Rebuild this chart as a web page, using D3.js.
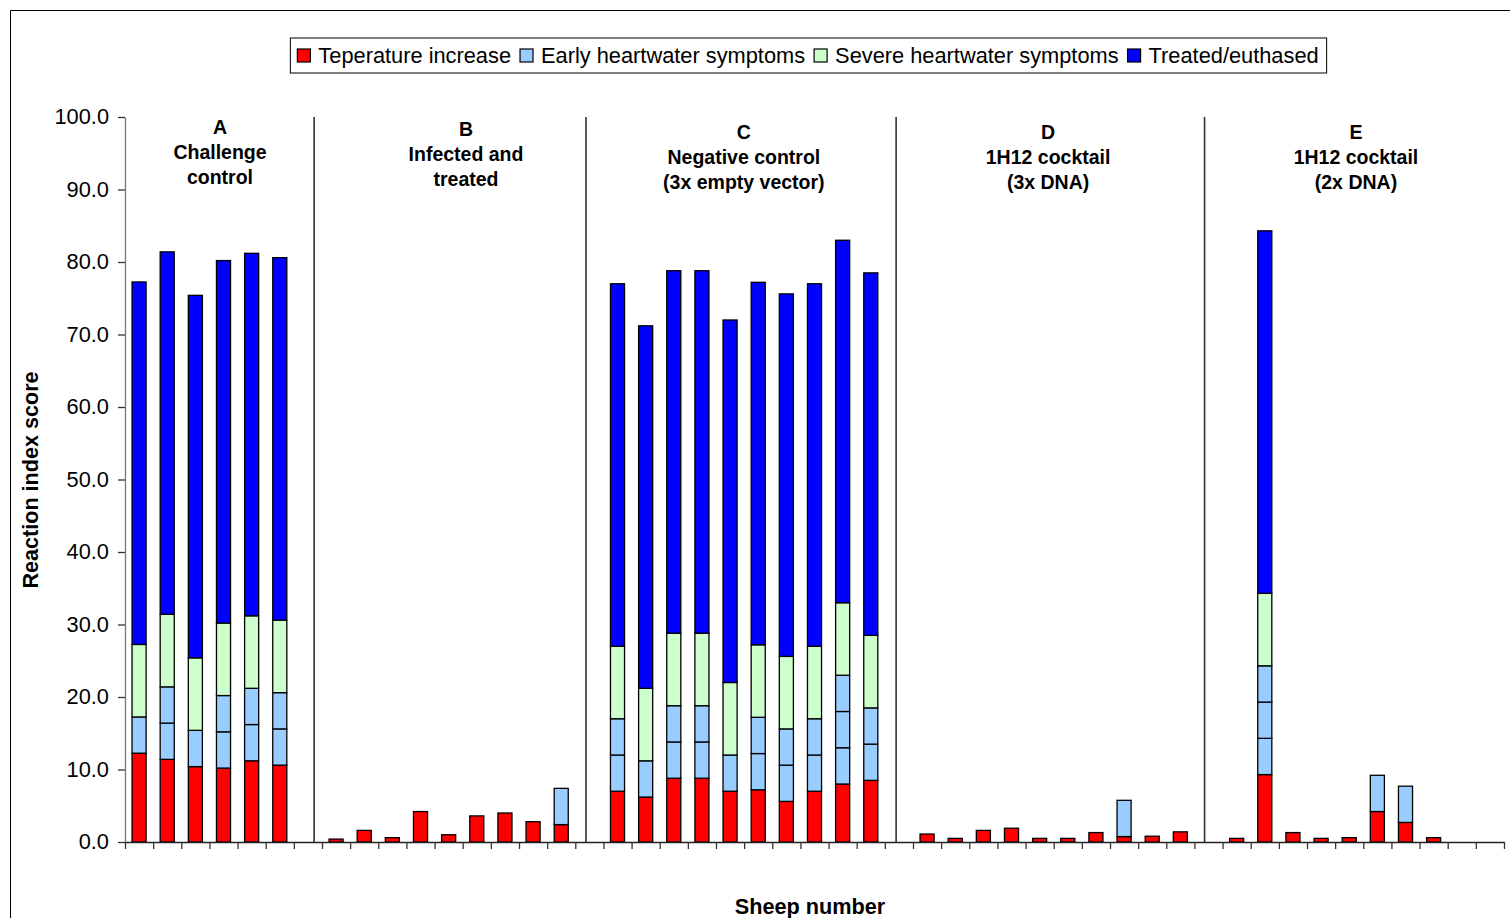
<!DOCTYPE html>
<html>
<head>
<meta charset="utf-8">
<script src="https://cdn.jsdelivr.net/npm/d3@7"></script>
<style>
  html, body { margin: 0; padding: 0; background: #fff; }
  svg { display: block; font-family: "Liberation Sans", Arial, sans-serif; }
</style>
</head>
<body>
<svg id="chart" width="1510" height="918"></svg>
<script>
// Sheep per group, in plotting order
const groupNames = ["A", "B", "C", "D", "E"];
const groupSizes = [6, 9, 10, 10, 10];
const groupTitles = [
  ["A", "Challenge", "control"],
  ["B", "Infected and", "treated"],
  ["C", "Negative control", "(3x empty vector)"],
  ["D", "1H12 cocktail", "(3x DNA)"],
  ["E", "1H12 cocktail", "(2x DNA)"]
];

// Reaction index score components, one value per sheep (A1..A6, B1..B9, C1..C10, D1..D10, E1..E10)
const tempIncrease = [
  12.25, 11.4, 10.4, 10.2, 11.2, 10.6,
  0.4, 1.6, 0.6, 4.2, 1.0, 3.6, 4.0, 2.8, 2.4,
  7.0, 6.2, 8.8, 8.8, 7.0, 7.2, 5.6, 7.0, 8.0, 8.5,
  1.1, 0.5, 1.6, 1.9, 0.5, 0.5, 1.3, 0.75, 0.8, 1.4,
  0.5, 9.3, 1.3, 0.5, 0.6, 4.2, 2.7, 0.6, 0, 0
];
const earlyDay1 = [
  5, 5, 5, 5, 5, 5,
  0, 0, 0, 0, 0, 0, 0, 0, 5,
  5, 5, 5, 5, 5, 5, 5, 5, 5, 5,
  0, 0, 0, 0, 0, 0, 0, 5, 0, 0,
  0, 5, 0, 0, 0, 5, 5, 0, 0, 0
];
const earlyDay2 = [
  0, 5, 0, 5, 5, 5,
  0, 0, 0, 0, 0, 0, 0, 0, 0,
  5, 0, 5, 5, 0, 5, 5, 5, 5, 5,
  0, 0, 0, 0, 0, 0, 0, 0, 0, 0,
  0, 5, 0, 0, 0, 0, 0, 0, 0, 0
];
const earlyDay3 = [
  0, 0, 0, 0, 0, 0,
  0, 0, 0, 0, 0, 0, 0, 0, 0,
  0, 0, 0, 0, 0, 0, 0, 0, 5, 0,
  0, 0, 0, 0, 0, 0, 0, 0, 0, 0,
  0, 5, 0, 0, 0, 0, 0, 0, 0, 0
];
const severe = [
  10, 10, 10, 10, 10, 10,
  0, 0, 0, 0, 0, 0, 0, 0, 0,
  10, 10, 10, 10, 10, 10, 10, 10, 10, 10,
  0, 0, 0, 0, 0, 0, 0, 0, 0, 0,
  0, 10, 0, 0, 0, 0, 0, 0, 0, 0
];
const treated = [
  50, 50, 50, 50, 50, 50,
  0, 0, 0, 0, 0, 0, 0, 0, 0,
  50, 50, 50, 50, 50, 50, 50, 50, 50, 50,
  0, 0, 0, 0, 0, 0, 0, 0, 0, 0,
  0, 50, 0, 0, 0, 0, 0, 0, 0, 0
];

const yTicks = [0, 10, 20, 30, 40, 50, 60, 70, 80, 90, 100];

const legendItems = [
  { label: "Teperature increase", color: "#FF0000" },
  { label: "Early heartwater symptoms", color: "#99CCFF" },
  { label: "Severe heartwater symptoms", color: "#CCFFCC" },
  { label: "Treated/euthased", color: "#0000FF" }
];

// Stack layers: the early-symptom score is built from separate day blocks
const layers = [
  { key: "temp", values: tempIncrease, color: "#FF0000" },
  { key: "early1", values: earlyDay1, color: "#99CCFF" },
  { key: "early2", values: earlyDay2, color: "#99CCFF" },
  { key: "early3", values: earlyDay3, color: "#99CCFF" },
  { key: "severe", values: severe, color: "#CCFFCC" },
  { key: "treated", values: treated, color: "#0000FF" }
];

// ---- build category slots: each group followed by an empty spacer slot ----
const rows = [];
const categories = [];
let k = 0;
groupNames.forEach((g, gi) => {
  for (let s = 0; s < groupSizes[gi]; s++) {
    const id = g + (s + 1);
    const row = { id, group: g };
    layers.forEach(l => { row[l.key] = l.values[k]; });
    rows.push(row);
    categories.push(id);
    k++;
  }
  if (gi < groupNames.length - 1) categories.push("gap" + gi);
});

// ---- layout ----
const svg = d3.select("#chart");
const W = 1510, H = 918;
const plot = { left: 125, right: 1504, top: 117, bottom: 842 };

const x = d3.scaleBand()
  .domain(categories)
  .range([plot.left, plot.right])
  .paddingInner(0.5)
  .paddingOuter(0.25);

const xEdge = d3.scaleLinear()
  .domain([0, categories.length])
  .range([plot.left, plot.right]);

const y = d3.scaleLinear().domain([0, 100]).range([plot.bottom, plot.top]);

// outer frame
svg.append("path")
  .attr("d", `M10.5,${H} V10.5 H${W}`)
  .attr("fill", "none")
  .attr("stroke", "#000")
  .attr("stroke-width", 1);

// stacked bars
const stack = d3.stack().keys(layers.map(l => l.key));
const stacked = stack(rows);
const colorOf = Object.fromEntries(layers.map(l => [l.key, l.color]));

svg.append("g")
  .selectAll("g")
  .data(stacked)
  .join("g")
  .attr("fill", d => colorOf[d.key])
  .selectAll("rect")
  .data(d => d.filter(s => s[1] - s[0] > 0))
  .join("rect")
  .attr("x", d => x(d.data.id))
  .attr("width", x.bandwidth())
  .attr("y", d => y(d[1]))
  .attr("height", d => y(d[0]) - y(d[1]))
  .attr("stroke", "#000")
  .attr("stroke-width", 1.3);

// group separators (placed along the category axis)
const separatorPos = [6.72, 16.38, 27.4, 38.36];
svg.append("g")
  .selectAll("line")
  .data(separatorPos)
  .join("line")
  .attr("x1", d => xEdge(d)).attr("x2", d => xEdge(d))
  .attr("y1", y(100)).attr("y2", y(0))
  .attr("stroke", "#333")
  .attr("stroke-width", 1.6);

// group titles
const titlePos = [3.376, 12.117, 21.99, 32.8, 43.74];
const titleTop = [127, 129, 132, 132, 132];
const titles = svg.append("g")
  .attr("font-weight", "bold")
  .attr("font-size", 19.5)
  .attr("text-anchor", "middle")
  .attr("fill", "#000");
groupTitles.forEach((lines, gi) => {
  lines.forEach((t, li) => {
    titles.append("text")
      .attr("x", xEdge(titlePos[gi]))
      .attr("y", titleTop[gi] + li * 25)
      .attr("dy", "0.36em")
      .text(t);
  });
});

// y axis
const yAxis = svg.append("g")
  .attr("transform", `translate(${plot.left},0)`)
  .call(d3.axisLeft(y)
    .tickValues(yTicks)
    .tickFormat(d3.format(".1f"))
    .tickSize(7)
    .tickPadding(9)
    .tickSizeOuter(0));
yAxis.select(".domain").attr("stroke", "#777").attr("stroke-width", 1.3);
yAxis.selectAll(".tick line").attr("stroke", "#333").attr("stroke-width", 1.3);
yAxis.selectAll(".tick text")
  .attr("font-size", 21.8)
  .attr("font-family", "\"Liberation Sans\", Arial, sans-serif")
  .attr("fill", "#000");

// x axis (ticks between categories, no labels)
const xAxis = svg.append("g")
  .attr("transform", `translate(0,${plot.bottom})`)
  .call(d3.axisBottom(xEdge)
    .tickValues(d3.range(0, categories.length + 1))
    .tickFormat("")
    .tickSize(7)
    .tickSizeOuter(0));
xAxis.select(".domain").attr("stroke", "#222").attr("stroke-width", 1.5);
xAxis.selectAll(".tick line").attr("stroke", "#333").attr("stroke-width", 1.3);

// axis titles
svg.append("text")
  .attr("transform", "translate(30,480) rotate(-90)")
  .attr("text-anchor", "middle")
  .attr("dy", "0.36em")
  .attr("font-weight", "bold")
  .attr("font-size", 21.6)
  .text("Reaction index score");

svg.append("text")
  .attr("x", 810)
  .attr("y", 906)
  .attr("dy", "0.36em")
  .attr("text-anchor", "middle")
  .attr("font-weight", "bold")
  .attr("font-size", 21.7)
  .text("Sheep number");

// legend
const legend = svg.append("g");
const legendBox = legend.append("rect")
  .attr("fill", "#fff")
  .attr("stroke", "#000")
  .attr("stroke-width", 1);
const sw = 13, gapIn = 8, gapOut = 9, padL = 7, padR = 8;
let cx = 0;
legendItems.forEach(item => {
  legend.append("rect")
    .attr("x", cx).attr("y", 55.5 - sw / 2)
    .attr("width", sw).attr("height", sw)
    .attr("fill", item.color)
    .attr("stroke", "#000")
    .attr("stroke-width", 1.2);
  const t = legend.append("text")
    .attr("x", cx + sw + gapIn)
    .attr("y", 55.5)
    .attr("dy", "0.36em")
    .attr("font-size", 21.8)
    .text(item.label);
  cx += sw + gapIn + t.node().getComputedTextLength() + gapOut;
});
const contentW = cx - gapOut;
const boxW = padL + contentW + padR;
const boxX = 808.5 - boxW / 2;
legendBox.attr("x", boxX).attr("y", 38).attr("width", boxW).attr("height", 35);
legend.selectAll("rect:not(:first-child), text")
  .attr("transform", `translate(${boxX + padL},0)`);
</script>
</body>
</html>
